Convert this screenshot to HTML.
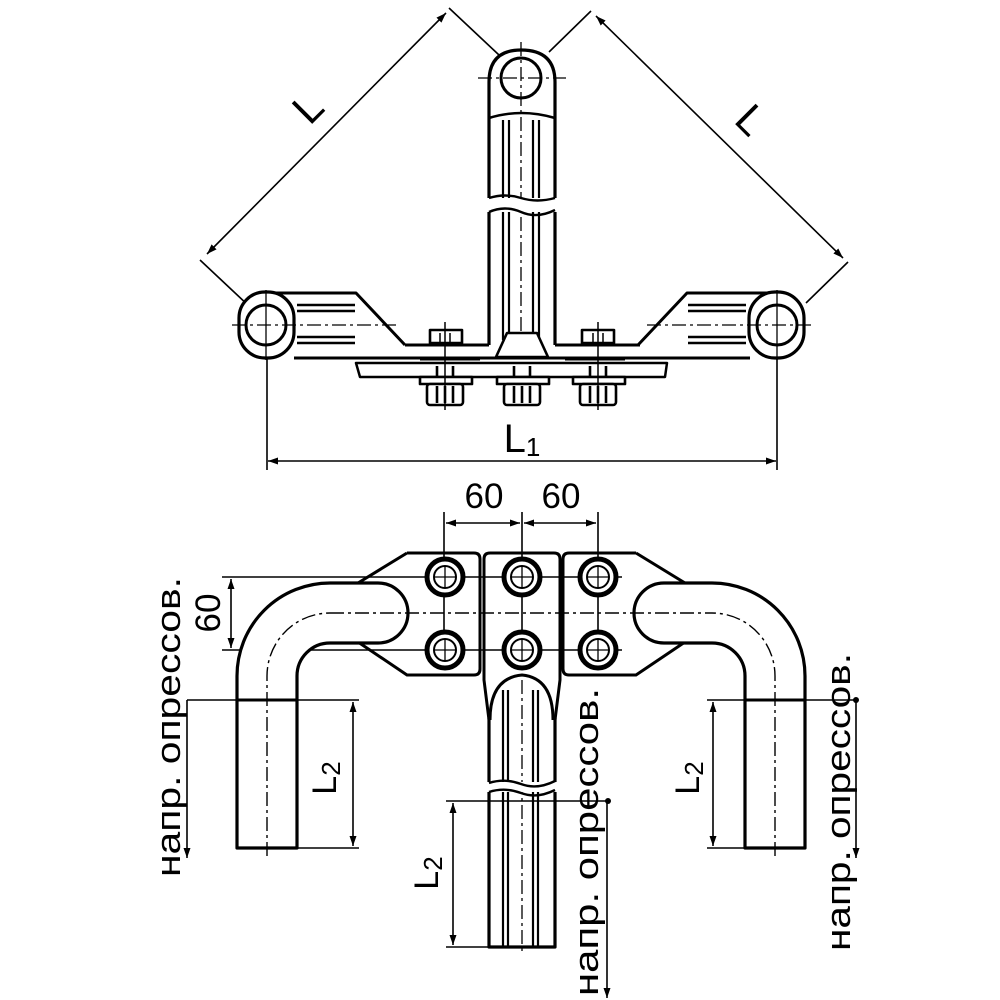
<!DOCTYPE html>
<html><head><meta charset="utf-8"><style>html,body{margin:0;padding:0;background:#fff}svg{display:block}</style></head>
<body>
<svg width="1000" height="1000" viewBox="0 0 1000 1000" xmlns="http://www.w3.org/2000/svg" font-family="Liberation Sans, sans-serif">
<defs>
<marker id="ar" viewBox="0 0 10 10" refX="10" refY="5" markerWidth="14" markerHeight="10" markerUnits="userSpaceOnUse" orient="auto-start-reverse"><path d="M0,1.5 L10,5 L0,8.5 Z" fill="#000"/></marker>
</defs>
<g fill="none" stroke="#000" stroke-linejoin="round">

<!-- ================= TOP VIEW ================= -->
<!-- dimension L left -->
<g stroke-width="1.6">
<line x1="200" y1="260" x2="250" y2="307"/>
<line x1="449" y1="8" x2="499" y2="55"/>
<line x1="207" y1="254" x2="446" y2="13" marker-start="url(#ar)" marker-end="url(#ar)"/>
<line x1="591" y1="11" x2="549" y2="52"/>
<line x1="848" y1="262" x2="806" y2="303"/>
<line x1="596" y1="16" x2="843" y2="258" marker-start="url(#ar)" marker-end="url(#ar)"/>
<!-- L1 -->
<line x1="267" y1="330" x2="267" y2="470"/>
<line x1="777" y1="330" x2="777" y2="470"/>
<line x1="268" y1="461" x2="776" y2="461" marker-start="url(#ar)" marker-end="url(#ar)"/>
</g>

<!-- vertical bar -->
<path d="M489,345 V82 Q489,50 521,50 Q555,50 555,82 V345" stroke-width="3.2"/>
<circle cx="521" cy="78" r="20" stroke-width="3"/>
<path d="M489,118 Q521,108 555,118" stroke-width="2.5"/>
<g stroke-width="2.2">
<line x1="503" y1="120" x2="503" y2="340"/><line x1="509" y1="120" x2="509" y2="340"/>
<line x1="533" y1="120" x2="533" y2="340"/><line x1="539" y1="120" x2="539" y2="340"/>
</g>
<line x1="521" y1="42" x2="521" y2="345" stroke-width="1.3" stroke-dasharray="14,4,3,4"/>
<line x1="478" y1="78" x2="566" y2="78" stroke-width="1.3" stroke-dasharray="14,4,3,4"/>
<!-- break -->
<rect x="486" y="198" width="72" height="14" fill="#fff" stroke="none"/>
<path d="M489,198 Q505,193 521,198 T555,198" stroke-width="2.4"/>
<path d="M489,212 Q505,205 521,212 T555,210" stroke-width="2.4"/>

<!-- left arm (and mirror) -->
<g id="arm">
<path d="M268,293 H356 L405,345" stroke-width="3"/>
<rect x="239" y="292" width="55" height="66" rx="26" fill="#fff" stroke-width="3.2"/>
<circle cx="266" cy="325" r="20" stroke-width="3"/>
<g stroke-width="2.6">
<line x1="297" y1="305" x2="355" y2="305"/><line x1="297" y1="311" x2="355" y2="311"/>
<line x1="297" y1="337" x2="355" y2="337"/><line x1="297" y1="343" x2="355" y2="343"/>
</g>
<line x1="232" y1="325" x2="400" y2="325" stroke-width="1.3" stroke-dasharray="14,4,3,4"/>
<line x1="266" y1="290" x2="266" y2="360" stroke-width="1.3"/>
</g>
<use href="#arm" transform="translate(1043,0) scale(-1,1)"/>

<!-- plates -->
<path d="M294,358 H750" stroke-width="3"/>
<path d="M405,345 H489 M555,345 H640" stroke-width="3"/>
<path d="M356,363 H667 L665,377 H360 Z" stroke-width="2.5"/>
<line x1="420" y1="359" x2="480" y2="359" stroke-width="3"/>
<line x1="565" y1="359" x2="625" y2="359" stroke-width="3"/>

<!-- bolts -->
<g stroke-width="2.6" fill="#fff">
<rect x="430" y="330" width="32" height="13"/>
<rect x="582" y="330" width="32" height="13"/>
<path d="M496,357 L507,333 H537 L548,357 Z"/>
<g id="lb">
<rect x="420" y="377" width="52" height="7"/>
<rect x="427" y="384" width="36" height="21" rx="3"/>
<line x1="437" y1="386" x2="437" y2="403"/><line x1="445" y1="386" x2="445" y2="403"/><line x1="453" y1="386" x2="453" y2="403"/>
<line x1="437" y1="366" x2="437" y2="377"/><line x1="453" y1="366" x2="453" y2="377"/>
</g>
<use href="#lb" transform="translate(77,0)"/>
<use href="#lb" transform="translate(153,0)"/>
</g>
<g stroke-width="1.5">
<line x1="445" y1="322" x2="445" y2="410"/><line x1="598" y1="322" x2="598" y2="410"/>
<line x1="440" y1="333" x2="440" y2="342"/><line x1="450" y1="333" x2="450" y2="342"/>
<line x1="593" y1="333" x2="593" y2="342"/><line x1="603" y1="333" x2="603" y2="342"/>
</g>

<!-- ================= BOTTOM VIEW ================= -->
<g stroke-width="1.6">
<line x1="444" y1="512" x2="444" y2="565"/>
<line x1="522" y1="512" x2="522" y2="565"/>
<line x1="598" y1="512" x2="598" y2="565"/>
<line x1="446" y1="523" x2="520" y2="523" marker-start="url(#ar)" marker-end="url(#ar)"/>
<line x1="524" y1="523" x2="596" y2="523" marker-start="url(#ar)" marker-end="url(#ar)"/>
<line x1="222" y1="577" x2="622" y2="577"/>
<line x1="222" y1="650" x2="622" y2="650"/>
<line x1="231" y1="579" x2="231" y2="648" marker-start="url(#ar)" marker-end="url(#ar)"/>
<line x1="444" y1="560" x2="444" y2="668"/><line x1="522" y1="560" x2="522" y2="668"/><line x1="598" y1="560" x2="598" y2="668"/>
</g>

<!-- plates -->
<g stroke-width="3">
<path d="M407,553 H474 Q480,553 480,559 V669 Q480,675 474,675 H407 L358,642 M358,583 L407,553"/>
<path d="M636,553 H569 Q563,553 563,559 V669 Q563,675 569,675 H636 L685,642 M685,583 L636,553"/>
<path d="M489,720 L484,680 V559 Q484,553 490,553 H554 Q560,553 560,559 V680 L555,720"/>
<path d="M490,720 Q490,678 522,675 Q553,678 553,720"/>
</g>

<!-- tubes -->
<g id="tube">
<path d="M237,848 V676 A93,93 0 0 1 330,583 H378 A30,30 0 0 1 378,643 H330 A33,33 0 0 0 297,676 V848 Z" stroke-width="3.2" fill="#fff"/>
<line x1="237" y1="700" x2="297" y2="700" stroke-width="3"/>
<path d="M267,856 V676 A63,63 0 0 1 330,613" stroke-width="1.4" stroke-dasharray="14,4,3,4"/>
</g>
<use href="#tube" transform="translate(1042,0) scale(-1,1)"/>
<line x1="330" y1="613" x2="712" y2="613" stroke-width="1.4" stroke-dasharray="14,4,3,4"/>

<!-- center bar -->
<path d="M489,718 V947 H555 V718" stroke-width="3.2"/>
<g stroke-width="2.2">
<line x1="503" y1="690" x2="503" y2="947"/><line x1="508" y1="690" x2="508" y2="947"/>
<line x1="533" y1="690" x2="533" y2="947"/><line x1="538" y1="690" x2="538" y2="947"/>
</g>
<line x1="522" y1="680" x2="522" y2="955" stroke-width="1.3" stroke-dasharray="14,4,3,4"/>
<rect x="487" y="782" width="70" height="10" fill="#fff" stroke="none"/>
<path d="M489,783 Q505,778 521,784 T555,781" stroke-width="2.4"/>
<path d="M489,792 Q505,787 521,793 T555,790" stroke-width="2.4"/>

<!-- bolts bottom -->
<g id="bt">
<circle cx="445" cy="577" r="18" stroke-width="5" fill="#fff"/>
<circle cx="445" cy="577" r="11" stroke-width="2"/>
<line x1="445" y1="567" x2="445" y2="587" stroke-width="1.3"/>
<line x1="435" y1="577" x2="455" y2="577" stroke-width="1.3"/>
</g>
<use href="#bt" transform="translate(77,0)"/>
<use href="#bt" transform="translate(153,0)"/>
<use href="#bt" transform="translate(0,73)"/>
<use href="#bt" transform="translate(77,73)"/>
<use href="#bt" transform="translate(153,73)"/>

<!-- L2 dims -->
<g stroke-width="1.6">
<line x1="187" y1="700" x2="359" y2="700"/>
<line x1="297" y1="848" x2="359" y2="848"/>
<line x1="353" y1="702" x2="353" y2="846" marker-start="url(#ar)" marker-end="url(#ar)"/>
<line x1="187" y1="700" x2="187" y2="858" marker-end="url(#ar)"/>
<line x1="707" y1="700" x2="856" y2="700"/>
<line x1="707" y1="848" x2="745" y2="848"/>
<line x1="713" y1="702" x2="713" y2="846" marker-start="url(#ar)" marker-end="url(#ar)"/>
<line x1="856" y1="700" x2="856" y2="858" marker-end="url(#ar)"/>
<line x1="446" y1="801" x2="608" y2="801"/>
<line x1="446" y1="947" x2="489" y2="947"/>
<line x1="453" y1="803" x2="453" y2="945" marker-start="url(#ar)" marker-end="url(#ar)"/>
<line x1="607" y1="801" x2="607" y2="998" marker-end="url(#ar)"/>
</g>
<circle cx="856" cy="700" r="3" fill="#000" stroke="none"/>
<circle cx="608" cy="801" r="3" fill="#000" stroke="none"/>
</g>

<!-- TEXT -->
<g fill="#000">
<text x="318" y="118" font-size="42" text-anchor="middle" transform="rotate(-45 318 118)">L</text>
<text x="741" y="130" font-size="42" text-anchor="middle" transform="rotate(45 741 130)">L</text>
<text x="522" y="452" font-size="40" text-anchor="middle">L<tspan font-size="26" dy="4">1</tspan></text>
<text x="484" y="508" font-size="35" text-anchor="middle">60</text>
<text x="561" y="508" font-size="35" text-anchor="middle">60</text>
<text x="220" y="613" font-size="35" text-anchor="middle" transform="rotate(-90 220 613)">60</text>
<text x="336" y="778" font-size="34" text-anchor="middle" transform="rotate(-90 336 778)">L<tspan font-size="26" dy="4">2</tspan></text>
<text x="699" y="778" font-size="34" text-anchor="middle" transform="rotate(-90 699 778)">L<tspan font-size="26" dy="4">2</tspan></text>
<text x="438" y="873" font-size="34" text-anchor="middle" transform="rotate(-90 438 873)">L<tspan font-size="26" dy="4">2</tspan></text>
<text x="180" y="727" font-size="34" text-anchor="middle" textLength="300" lengthAdjust="spacingAndGlyphs" transform="rotate(-90 180 727)">напр. опрессов.</text>
<text x="850" y="802" font-size="34" text-anchor="middle" textLength="298" lengthAdjust="spacingAndGlyphs" transform="rotate(-90 850 802)">напр. опрессов.</text>
<text x="598" y="842" font-size="34" text-anchor="middle" textLength="308" lengthAdjust="spacingAndGlyphs" transform="rotate(-90 598 842)">напр. опрессов.</text>
</g>
</svg>
</body></html>
